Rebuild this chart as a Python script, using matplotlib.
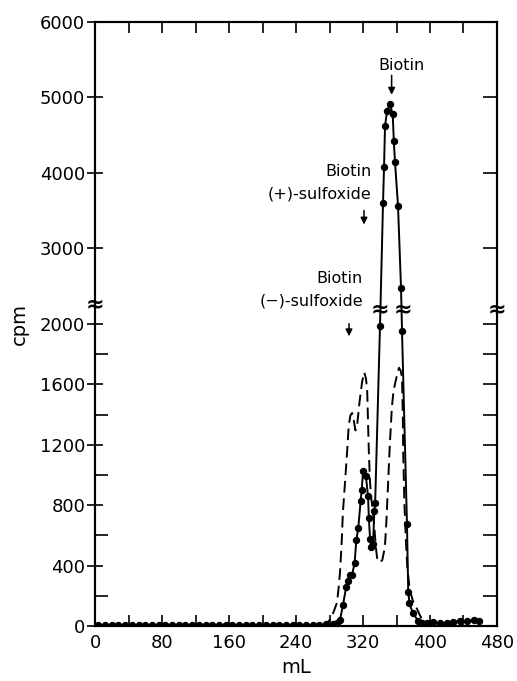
import numpy as np
import matplotlib.pyplot as plt
from matplotlib.ticker import FixedLocator

# solid curve with dots (fractions)
solid_ml = [4, 12, 20, 28, 36, 44, 52, 60, 68, 76, 84, 92, 100, 108, 116, 124, 132, 140,
            148, 156, 164, 172, 180, 188, 196, 204, 212, 220, 228, 236, 244, 252, 260, 268,
            276, 284, 289, 292.5, 296, 300, 302, 304.5, 307, 310, 312, 314.4, 317.2, 318.5,
            320, 323.5, 326, 327, 328.5, 330, 332, 333.5, 334.5, 340.3, 343.9, 345.1, 346.3,
            348.7, 352.2, 355.5, 356.8, 358.2, 361.8, 365.4, 366.6, 372.5, 374, 375.5, 379.5,
            385.7, 390, 396, 404, 412, 420, 428, 436, 444, 452, 458]
solid_cpm = [8, 6, 8, 7, 8, 6, 8, 7, 6, 8, 7, 9, 8, 6, 8, 7, 9, 8,
             7, 8, 6, 8, 7, 8, 6, 8, 7, 9, 8, 6, 8, 7, 6, 8,
             10, 12, 18, 40, 137, 260, 300, 335, 340, 418, 567, 651, 830, 900,
             1025, 990, 860, 712, 573, 525, 540, 764, 812, 1985, 3600, 4075, 4620,
             4820, 4910, 4780, 4418, 4149, 3567, 2478, 1952, 675, 227, 150, 84,
             36, 20, 18, 24, 18, 20, 25, 36, 30, 40, 35]

# dashed curve
dash_ml = [270, 276, 282, 286, 289, 291, 292.5, 294.5, 296, 298.5, 301, 303, 305, 307, 309,
           311, 313, 316, 319, 321.5, 323.5, 325, 326, 327, 328.4, 330, 332, 334, 335.5, 337,
           338.5, 341, 343, 345, 346.5, 348, 350, 352, 354.5, 356.5, 358.5, 361, 363, 365,
           366.6, 367.5, 368, 369.5, 371.3, 373, 376, 380, 384.5, 388, 391.6, 396, 400, 405]
dash_cpm = [0, 15, 50, 110, 155, 260, 352, 550, 752, 950, 1152, 1330, 1395, 1410, 1360,
            1295, 1330, 1490, 1620, 1680, 1640, 1560, 1349, 1150, 950, 840, 752, 620, 513, 445,
            424, 425, 436, 490, 555, 700, 950, 1200, 1450, 1560, 1610, 1670, 1710, 1690,
            1648, 1400, 1152, 800, 555, 380, 233, 160, 113, 70, 36, 15, 6, 0]

xticks = [0, 80, 160, 240, 320, 400, 480]
yticks = [0, 400, 800, 1200, 1600, 2000, 3000, 4000, 5000, 6000]
yminor = [200, 600, 1000, 1400, 1800]


def fwd(y):
    y = np.asarray(y, dtype=float)
    return np.where(y <= 2000, y, 2000 + (y - 2000) / 2)


def inv(z):
    z = np.asarray(z, dtype=float)
    return np.where(z <= 2000, z, 2000 + (z - 2000) * 2)


plt.rcParams['font.family'] = 'DejaVu Sans'
fig = plt.figure(figsize=(5.17, 6.81), dpi=100)
ax = fig.add_axes([0.1838, 0.0808, 0.7775, 0.8869])
ax.set_yscale('function', functions=(fwd, inv))

ax.plot(dash_ml, dash_cpm, color='black', lw=1.4, ls=(0, (6, 3)))
ax.plot(solid_ml, solid_cpm, color='black', lw=1.4, marker='o', ms=4.3)

ax.set_xlim(0, 480)
ax.set_ylim(0, 6000)
ax.yaxis.set_major_locator(FixedLocator(yticks))
ax.yaxis.set_minor_locator(FixedLocator(yminor))
ax.set_yticklabels([str(t) for t in yticks])
ax.set_xticks(xticks)
ax.xaxis.set_minor_locator(FixedLocator([40, 120, 200, 280, 360, 440]))
ax.tick_params(axis='y', which='major', direction='inout', length=12, width=1.2,
               pad=1, labelsize=13, right=False)
ax.tick_params(axis='y', which='minor', direction='in', length=9, width=1.2, right=False)
ax.tick_params(axis='x', which='both', direction='in', length=8, width=1.2,
               top=True, labelsize=13, pad=6)

ax2 = ax.twinx()
ax2.set_yscale('function', functions=(fwd, inv))
ax2.set_ylim(0, 6000)
ax2.yaxis.set_major_locator(FixedLocator(yticks + yminor))
ax2.tick_params(axis='y', direction='in', length=10, width=1.2, labelright=False)

for a in (ax, ax2):
    for s in a.spines.values():
        s.set_linewidth(1.5)

ax.set_xlabel('mL', fontsize=14, labelpad=4)
ax.set_ylabel('cpm', fontsize=14, labelpad=8)

# break marks
ax.text(0, 2260, '≈', transform=ax.get_yaxis_transform(), ha='center', va='center',
        fontsize=16, fontweight='bold')
ax.text(1, 2200, '≈', transform=ax.get_yaxis_transform(), ha='center', va='center',
        fontsize=16, fontweight='bold')
ax.text(340.3, 2200, '≈', ha='center', va='center', fontsize=16, fontweight='bold')
ax.text(367.5, 2200, '≈', ha='center', va='center', fontsize=16, fontweight='bold')

# annotations
arrow = dict(arrowstyle='-|>', color='black', lw=1.1, mutation_scale=10)
ax.text(366, 5420, 'Biotin', ha='center', va='center', fontsize=11.5)
ax.annotate('', xy=(354.2, 5000), xytext=(354.2, 5330), arrowprops=arrow)
ax.text(330, 4015, 'Biotin', ha='right', va='center', fontsize=11.5)
ax.text(330, 3716, '(+)-sulfoxide', ha='right', va='center', fontsize=11.5)
ax.annotate('', xy=(321.2, 3280), xytext=(321.2, 3540), arrowprops=arrow)
ax.text(320, 2597, 'Biotin', ha='right', va='center', fontsize=11.5)
ax.text(320, 2299, '(−)-sulfoxide', ha='right', va='center', fontsize=11.5)
ax.annotate('', xy=(303.3, 1900), xytext=(303.3, 2040), arrowprops=arrow)

fig.savefig('out.png', dpi=100)
